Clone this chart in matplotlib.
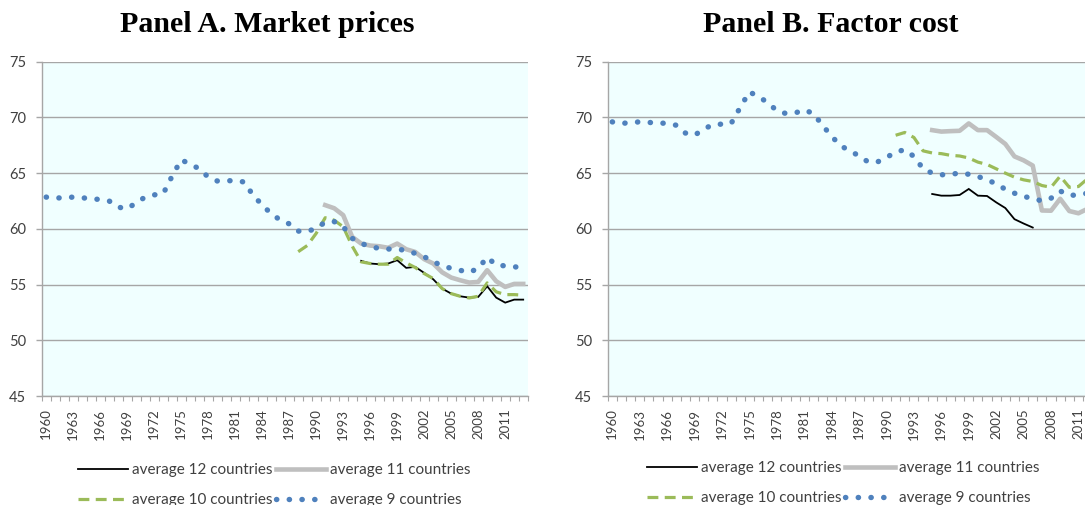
import numpy as np
import matplotlib
matplotlib.use("Agg")
import matplotlib.pyplot as plt
from matplotlib.ticker import FixedLocator, NullFormatter

nan = np.nan
years = list(range(1960, 2014))

# ---------------- Panel A: market prices ----------------
a_avg9 = [62.85, 62.76, 62.80, 62.85, 62.78, 62.73, 62.62, 62.50, 61.95, 61.80,
          62.35, 62.85, 63.05, 63.15, 64.75, 66.20, 65.80, 65.40, 64.65, 64.30,
          64.30, 64.35, 64.20, 63.00, 62.15, 61.35, 60.80, 60.45, 59.80, 59.76,
          60.05, 60.60, 60.65, 60.20, 59.15, 58.70, 58.40, 58.25, 58.19, 58.19,
          58.05, 57.80, 57.50, 57.05, 56.70, 56.45, 56.28, 56.10, 56.45, 57.45,
          56.75, 56.68, 56.60, 56.50]
a_avg10 = [nan] * 28 + [57.95, 58.50, 59.60, 61.00, 60.78, 60.18, 58.45, 57.04,
                        56.89, 56.83, 56.83, 57.43, 56.95, 56.53, 55.99, 55.54,
                        54.64, 54.19, 53.95, 53.80, 53.95, 55.15, 54.35, 54.10,
                        54.10, 54.05]
a_avg11 = [nan] * 31 + [62.13, 61.85, 61.23, 59.28, 58.68, 58.50, 58.44, 58.30,
                        58.68, 58.17, 57.93, 57.28, 56.89, 56.10, 55.63, 55.39,
                        55.18, 55.24, 56.29, 55.30, 54.79, 55.06, 55.06]
a_avg12 = [nan] * 35 + [57.13, 56.89, 56.83, 56.89, 57.19, 56.50, 56.59, 56.05,
                        55.48, 54.64, 54.19, 53.95, 53.83, 53.89, 54.85, 53.83,
                        53.38, 53.65, 53.65]

# ---------------- Panel B: factor cost ----------------
b_avg9 = [69.60, 69.45, 69.55, 69.60, 69.55, 69.50, 69.47, 69.30, 68.60, 68.40,
          68.95, 69.35, 69.40, 69.45, 70.90, 72.30, 71.85, 71.35, 70.60, 70.35,
          70.40, 70.68, 70.35, 69.30, 68.30, 67.45, 67.00, 66.55, 66.00, 66.00,
          66.40, 66.90, 67.10, 66.50, 65.40, 65.00, 64.85, 64.90, 65.00, 64.90,
          64.70, 64.40, 64.05, 63.55, 63.20, 62.90, 62.75, 62.50, 62.75, 63.40,
          63.00, 63.05, 63.20, 63.20]
b_avg10 = [nan] * 31 + [68.40, 68.65, 68.20, 67.00, 66.81, 66.75, 66.60, 66.54,
                        66.36, 65.99, 65.78, 65.39, 65.00, 64.64, 64.40, 64.25,
                        63.89, 63.73, 64.73, 63.73, 63.80, 64.50, 64.50]
b_avg11 = [nan] * 35 + [68.86, 68.73, 68.77, 68.80, 69.46, 68.86, 68.86, 68.25,
                        67.62, 66.50, 66.15, 65.68, 61.65, 61.63, 62.70, 61.60,
                        61.40, 61.80, 61.80]
b_avg12 = [nan] * 35 + [63.13, 62.98, 62.98, 63.04, 63.58, 62.98, 62.95, 62.38,
                        61.87, 60.87, 60.48, 60.12] + [nan] * 7

labels = ["average 12 countries", "average 11 countries",
          "average 10 countries", "average 9 countries"]
titles = ["Panel A. Market prices", "Panel B. Factor cost"]

BG = "#F0FFFF"
GRID = "#A6A6A6"
TXT = "#404040"
SANS = ["Lato", "DejaVu Sans"]

fig = plt.figure(figsize=(10.85, 5.05), dpi=100)

positions = [[41.7 / 1085, 0.2158, 486.0 / 1085, 0.662],
             [607.7 / 1085, 0.2158, 493.6 / 1085, 0.662]]
data = [(a_avg12, a_avg11, a_avg10, a_avg9), (b_avg12, b_avg11, b_avg10, b_avg9)]
title_x = [267 / 1085, 831 / 1085]
legend_center = [(274 / 1085, 1 - 485 / 505), (843 / 1085, 1 - 483 / 505)]

x = np.arange(len(years))
for k in range(2):
    ax = fig.add_axes(positions[k])
    ax.set_facecolor(BG)
    s12, s11, s10, s9 = data[k]
    h12, = ax.plot(x, s12, color="black", lw=1.3, solid_joinstyle="miter")
    h11, = ax.plot(x, s11, color="#BFBFBF", lw=3.3, solid_joinstyle="round")
    h10, = ax.plot(x, s10, color="#9BBB59", lw=2.3, linestyle=(0, (3.4, 2.0)),
                   dash_capstyle="butt")
    h9, = ax.plot(x, s9, color="#4F81BD", lw=3.9, linestyle=(0, (0.05, 2.3)),
                  dash_capstyle="round")
    ax.set_xlim(-0.5, len(years) - 0.5)
    ax.set_ylim(45, 75)
    ax.set_yticks(range(45, 80, 5))
    ax.yaxis.grid(True, color=GRID, lw=1.0)
    ax.set_axisbelow(True)
    for sp in ["top", "right"]:
        ax.spines[sp].set_visible(False)
    for sp in ["left", "bottom"]:
        ax.spines[sp].set_color(GRID)
        ax.spines[sp].set_linewidth(1.0)
    ax.tick_params(axis="y", length=4, width=1.0, color=GRID, pad=7,
                   labelsize=10.5, labelcolor=TXT)
    for t in ax.get_yticklabels():
        t.set_fontfamily(SANS)
    ax.set_xticks(x[::3])
    ax.set_xticklabels([str(y) for y in years[::3]], rotation=90,
                       fontsize=9.5, color=TXT, family=SANS)
    ax.xaxis.set_minor_locator(FixedLocator(np.arange(-0.5, len(years), 1.0)))
    ax.xaxis.set_minor_formatter(NullFormatter())
    ax.tick_params(axis="x", which="major", length=0, pad=9)
    ax.tick_params(axis="x", which="minor", length=3.5, width=0.8, color=GRID)

    fig.text(title_x[k], 1 - 24 / 505, titles[k], ha="center", va="center",
             fontsize=21.5, fontweight="bold", family="Liberation Serif")

    fig.legend([h12, h10, h11, h9], [labels[0], labels[2], labels[1], labels[3]],
               ncol=2, loc="center", bbox_to_anchor=legend_center[k],
               frameon=False, prop={"family": SANS, "size": 11},
               handlelength=3.3, handletextpad=0.25, columnspacing=0.2,
               labelspacing=1.05, borderpad=0.0, borderaxespad=0.0,
               labelcolor=TXT)

fig.savefig("out.png", dpi=100)
